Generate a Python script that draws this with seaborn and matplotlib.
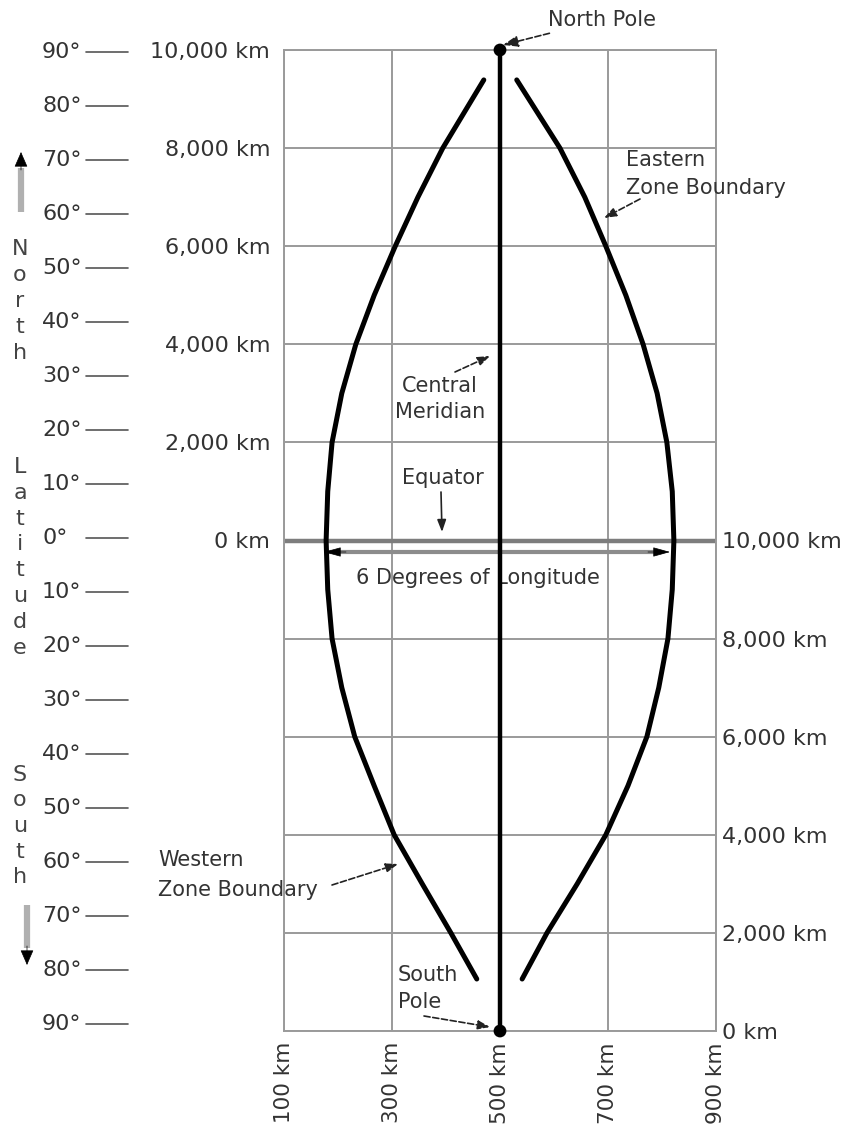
import matplotlib
matplotlib.use("Agg")
import matplotlib.pyplot as plt
import seaborn as sns

###--- Grid values (km):
easting_km = [100, 300, 500, 700, 900]
northing_north_km = [0, 2000, 4000, 6000, 8000, 10000]
northing_south_km = [0, 2000, 4000, 6000, 8000, 10000]
north_labels = ["0 km", "2,000 km", "4,000 km", "6,000 km", "8,000 km", "10,000 km"]
south_labels = ["0 km", "2,000 km", "4,000 km", "6,000 km", "8,000 km", "10,000 km"]
easting_labels = ["100 km", "300 km", "500 km", "700 km", "900 km"]

###--- Latitude scale on the left:
lat_deg = [90, 80, 70, 60, 50, 40, 30, 20, 10, 0,
           -10, -20, -30, -40, -50, -60, -70, -80, -90]
lat_labels = [f"{abs(v)}°" for v in lat_deg]

###--- Zone boundaries, northing from south pole (km):
bnd_northing = [19390, 18000, 17000, 16000, 15000, 14000, 13000, 12000, 11000, 10000,
                9000, 8000, 7000, 6000, 5000, 4000, 3000, 2000, 1060]
west_easting = [470, 394, 348, 306, 267, 233, 207, 189, 181, 178,
                181, 189, 207, 231, 267, 304, 356, 409, 457]
east_easting = [531, 611, 657, 696, 733, 765, 791, 809, 819, 822,
                819, 811, 794, 772, 737, 696, 643, 587, 541]

central_meridian = 500
equator_northing = 10000
poles_northing = [0, 20000]

sns.set_theme(style="white")
plt.rcParams['font.family'] = ['DejaVu Sans']

W, H = 856, 1127
fig = plt.figure(figsize=(W / 100, H / 100), dpi=100)
ax = fig.add_axes([284 / W, 96 / H, 432 / W, 981 / H])
ax.set_xlim(100, 900)
ax.set_ylim(0, 20000)


def X(px):
    return 100 + (px - 284) * 800 / 432


def Y(py):
    return (1031 - py) * 20000 / 981


grey = '#9a9a9a'
txt = '#333333'

###--- grid + labels
all_north = northing_south_km + [equator_northing + v for v in northing_north_km[1:]]
ax.set_xticks(easting_km)
ax.set_xticklabels(easting_labels, rotation=90, fontsize=15.5, color=txt)
ax.set_yticks(all_north)
ax.set_yticklabels([''] * 5 + north_labels, fontsize=16, color=txt)
ax.tick_params(axis='both', length=0)
ax.tick_params(axis='x', pad=8)
ax.tick_params(axis='y', pad=10)
ax.grid(True, color=grey, lw=1.4)
ax.set_axisbelow(True)
for s in ax.spines.values():
    s.set_color(grey)
    s.set_linewidth(1.4)

ax2 = ax.twinx()
ax2.set_ylim(0, 20000)
ax2.set_yticks(northing_south_km)
ax2.set_yticklabels(south_labels, fontsize=16, color=txt)
ax2.tick_params(axis='y', length=0, pad=4)
ax2.grid(False)
for s in ax2.spines.values():
    s.set_visible(False)

###--- equator
ax.axhline(equator_northing, color='#7d7d7d', lw=3.2, zorder=2)

###--- zone boundaries and central meridian
sns.lineplot(x=west_easting, y=bnd_northing, sort=False, estimator=None,
             color='black', lw=3.6, ax=ax, zorder=4)
sns.lineplot(x=east_easting, y=bnd_northing, sort=False, estimator=None,
             color='black', lw=3.6, ax=ax, zorder=4)
sns.lineplot(x=[central_meridian] * 2, y=poles_northing, sort=False, estimator=None,
             color='black', lw=3.2, ax=ax, zorder=5)
sns.scatterplot(x=[central_meridian] * 2, y=poles_northing, s=85, color='black',
                ax=ax, zorder=6, clip_on=False, edgecolor='none')

###--- 6 degrees of longitude
ax.plot([X(330), X(662)], [Y(552)] * 2, color='#8c8c8c', lw=3, zorder=3)
for x0, x1 in [(X(346), X(324)), (X(648), X(670))]:
    ax.annotate('', xy=(x1, Y(552)), xytext=(x0, Y(552)),
                arrowprops=dict(arrowstyle='-|>,head_length=0.9,head_width=0.25',
                                lw=0.5, color='black', shrinkA=0, shrinkB=0),
                zorder=3)
ax.text(X(478), Y(578), '6 Degrees of Longitude', fontsize=15, color=txt,
        ha='center', va='center', zorder=3)

###--- annotations
afs = 15
arrow = dict(arrowstyle='-|>,head_length=0.6,head_width=0.22', color='#222222',
             lw=1.2, shrinkA=0, shrinkB=0)
ax.annotate('North Pole', xy=(X(503), Y(45)), xytext=(X(548), Y(20)),
            fontsize=afs, color=txt, ha='left', va='center',
            arrowprops=dict(arrow, ls='--'), annotation_clip=False)
ax.text(X(626), Y(160), 'Eastern', fontsize=afs, color=txt, ha='left', va='center')
ax.text(X(626), Y(188), 'Zone Boundary', fontsize=afs, color=txt, ha='left', va='center')
ax.annotate('', xy=(X(604), Y(218)), xytext=(X(640), Y(199)),
            arrowprops=dict(arrow, ls='--'))
ax.text(X(440), Y(386), 'Central', fontsize=afs, color=txt, ha='center', va='center')
ax.text(X(440), Y(412), 'Meridian', fontsize=afs, color=txt, ha='center', va='center')
ax.annotate('', xy=(X(490), Y(356)), xytext=(X(455), Y(372)),
            arrowprops=dict(arrow, ls='--'))
ax.text(X(443), Y(478), 'Equator', fontsize=afs, color=txt, ha='center', va='center')
ax.annotate('', xy=(X(442), Y(532)), xytext=(X(441), Y(492)), arrowprops=arrow)
ax.text(X(158), Y(860), 'Western', fontsize=afs, color=txt, ha='left', va='center',
        clip_on=False)
ax.text(X(158), Y(890), 'Zone Boundary', fontsize=afs, color=txt, ha='left', va='center',
        clip_on=False)
ax.annotate('', xy=(X(398), Y(864)), xytext=(X(332), Y(885)),
            arrowprops=dict(arrow, ls='--'))
ax.text(X(398), Y(975), 'South', fontsize=afs, color=txt, ha='left', va='center')
ax.text(X(398), Y(1002), 'Pole', fontsize=afs, color=txt, ha='left', va='center')
ax.annotate('', xy=(X(490), Y(1027)), xytext=(X(424), Y(1016)), arrowprops=dict(arrow, ls='--'))

###--- latitude scale
lat0 = Y(538)
lat_step = (Y(52) - Y(538)) / 90
for v, lab in zip(lat_deg, lat_labels):
    yy = lat0 + v * lat_step
    ax.plot([X(86), X(128)], [yy, yy], color='#555555', lw=1.2, clip_on=False)
    ax.text(X(42), yy, lab, fontsize=16, color=txt, ha='left', va='center',
            clip_on=False)

###--- vertical words
for word, start, step in [("North", 249, 26), ("Latitude", 467, 25.8), ("South", 775, 25.5)]:
    for i, ch in enumerate(word):
        ax.text(X(20), Y(start + i * step), ch, fontsize=16, color='#444444',
                ha='center', va='center', clip_on=False)

###--- up / down arrows
ax.plot([X(21), X(21)], [Y(212), Y(168)], color='#b0b0b0', lw=4.5, clip_on=False,
        solid_capstyle='butt')
ax.annotate('', xy=(X(21), Y(152)), xytext=(X(21), Y(170)),
            arrowprops=dict(arrowstyle='-|>,head_length=0.8,head_width=0.35',
                            color='black', lw=0.5, shrinkA=0, shrinkB=0),
            annotation_clip=False)
ax.plot([X(27), X(27)], [Y(905), Y(948)], color='#b0b0b0', lw=4.5, clip_on=False,
        solid_capstyle='butt')
ax.annotate('', xy=(X(27), Y(965)), xytext=(X(27), Y(946)),
            arrowprops=dict(arrowstyle='-|>,head_length=0.8,head_width=0.35',
                            color='black', lw=0.5, shrinkA=0, shrinkB=0),
            annotation_clip=False)

fig.savefig('out.png', dpi=100, facecolor='white')
